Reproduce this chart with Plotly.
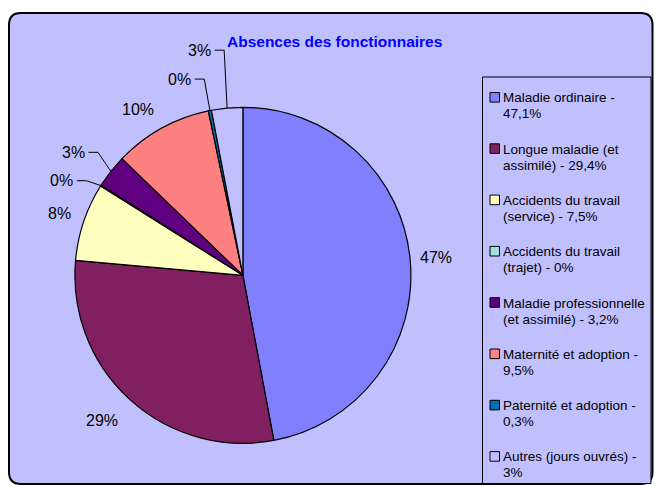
import math
import plotly.graph_objects as go

# ---------------- data ----------------
categories = [
    "Maladie ordinaire",
    "Longue maladie (et assimilé)",
    "Accidents du travail (service)",
    "Accidents du travail (trajet)",
    "Maladie professionnelle (et assimilé)",
    "Maternité et adoption",
    "Paternité et adoption",
    "Autres (jours ouvrés)",
]
values = [47.1, 29.4, 7.5, 0.1, 3.2, 9.5, 0.3, 3.0]
legend_lines = [
    ("Maladie ordinaire -", "47,1%"),
    ("Longue maladie (et", "assimilé) - 29,4%"),
    ("Accidents du travail", "(service) - 7,5%"),
    ("Accidents du travail", "(trajet) - 0%"),
    ("Maladie professionnelle", "(et assimilé) - 3,2%"),
    ("Maternité et adoption -", "9,5%"),
    ("Paternité et adoption -", "0,3%"),
    ("Autres (jours ouvrés) -", "3%"),
]
title_text = "Absences des fonctionnaires"

# ---------------- styles ----------------
colors = ["#8080FF", "#802060", "#FFFFC0", "#A0E0E0",
          "#600080", "#FF8080", "#0070B0", "#C0C0FF"]
BG = "#C0C0FF"
FONT = "Liberation Sans, Arial, sans-serif"
W, H = 655, 486

def X(px):
    return px / W

def Y(py):
    return 1 - py / H

# pie geometry (pixels)
CX, CY, R = 242.9, 275.3, 168.0
LABEL_R = R + 26
label_nudge = {1: (-10, 2), 5: (-11, 4), 3: (-17, 9), 4: (-17, -3),
               6: (-25, -6), 7: (-25, -32)}
leader = {3, 4, 6, 7}

fig = go.Figure()
fig.add_trace(go.Pie(
    labels=categories, values=values, sort=False, direction="clockwise",
    rotation=0, textinfo="none", hoverinfo="label+percent",
    marker=dict(colors=colors, line=dict(color="black", width=1.2)),
    domain=dict(x=[X(CX - R), X(CX + R)], y=[Y(CY + R), Y(CY - R)]),
    showlegend=False,
))

shapes = []
annotations = []

# outer rounded frame
x0, x1, yt, yb = X(9), X(652.5), Y(13), Y(484)
rx, ry = 12 / W, 12 / H
path = (f"M {x0+rx},{yt} L {x1-rx},{yt} Q {x1},{yt} {x1},{yt-ry} "
        f"L {x1},{yb+ry} Q {x1},{yb} {x1-rx},{yb} L {x0+rx},{yb} "
        f"Q {x0},{yb} {x0},{yb+ry} L {x0},{yt-ry} Q {x0},{yt} {x0+rx},{yt} Z")
shapes.append(dict(type="path", path=path, xref="paper", yref="paper",
                   fillcolor=BG, line=dict(color="black", width=2), layer="below"))

# legend box
shapes.append(dict(type="rect", xref="paper", yref="paper",
                   x0=X(482.5), x1=X(651), y0=Y(483.5), y1=Y(77),
                   fillcolor=BG, line=dict(color="black", width=1), layer="below"))

# slice labels computed from the data
total = sum(values)
cum = 0.0
for i, v in enumerate(values):
    mid = (cum + v / 2) / total * 2 * math.pi
    cum += v
    dx, dy = math.sin(mid), -math.cos(mid)
    lx, ly = CX + LABEL_R * dx, CY + LABEL_R * dy
    nx, ny = label_nudge.get(i, (0, 0))
    lx, ly = lx + nx, ly + ny
    pct = int(v + 0.5)
    annotations.append(dict(x=X(lx), y=Y(ly), xref="paper", yref="paper",
                            text=f"{pct}%", showarrow=False,
                            xanchor="center", yanchor="middle",
                            font=dict(family=FONT, size=16, color="black")))
    if i in leader:
        ex, ey = CX + R * dx, CY + R * dy
        p = (f"M {X(lx + 15)},{Y(ly)} L {X(lx + 24.5)},{Y(ly)} "
             f"L {X(ex)},{Y(ey)}")
        shapes.append(dict(type="path", path=p, xref="paper", yref="paper",
                           line=dict(color="black", width=1)))

# legend entries
for i, (l1, l2) in enumerate(legend_lines):
    yc = 97.3 + 51.3 * i
    shapes.append(dict(type="rect", xref="paper", yref="paper",
                       x0=X(490), x1=X(499.5), y0=Y(yc + 4.8), y1=Y(yc - 4.8),
                       fillcolor=colors[i], line=dict(color="black", width=1)))
    for k, t in enumerate((l1, l2)):
        annotations.append(dict(x=X(501), y=Y(yc + 16 * k + 0.5),
                                xref="paper", yref="paper", text=t,
                                showarrow=False, xanchor="left", yanchor="middle",
                                font=dict(family=FONT, size=13.5, color="black")))

# title
annotations.append(dict(x=X(334.5), y=Y(41), xref="paper", yref="paper",
                        text=f"<b>{title_text}</b>", showarrow=False,
                        xanchor="center", yanchor="middle",
                        font=dict(family=FONT, size=15.5, color="#0000FF")))

fig.update_layout(
    width=W, height=H, margin=dict(l=0, r=0, t=0, b=0),
    paper_bgcolor="white", plot_bgcolor="white",
    shapes=shapes, annotations=annotations, showlegend=False,
)

fig.write_html(
    "out.html",
    config={"displayModeBar": False},
    post_script="document.body.style.margin='0';document.body.style.overflow='hidden';",
)
